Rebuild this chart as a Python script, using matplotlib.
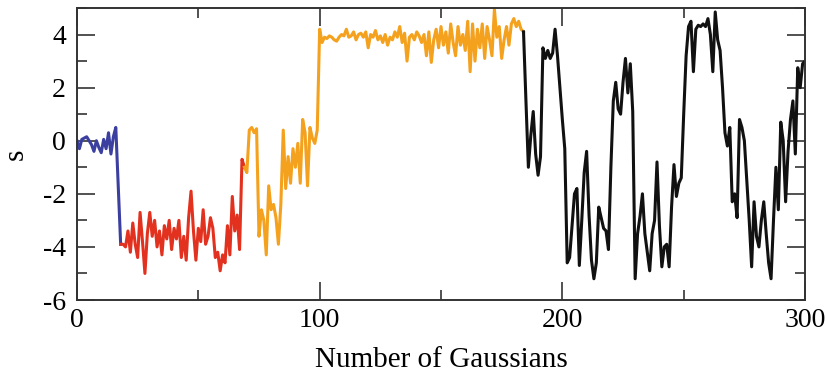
import matplotlib
matplotlib.use("Agg")
import matplotlib.pyplot as plt
from matplotlib.ticker import MultipleLocator
import numpy as np

plt.rcParams['font.family'] = ['Liberation Serif', 'DejaVu Serif']
plt.rcParams['axes.unicode_minus'] = False

# s value per number of gaussians, split into the four coloured stretches
blue_s = [0.0, -0.3, 0.05, 0.1, 0.15, 0.0, -0.15, -0.4, 0.0, -0.25,
          -0.45, 0.05, -0.3, 0.3, -0.5, 0.15, 0.5, -1.7, -3.9]
red_s = [-3.9, -4.0, -3.4, -4.2, -3.1, -3.9, -4.4, -2.7, -3.8, -5.0,
         -3.5, -2.7, -3.6, -3.0, -4.0, -3.4, -4.3, -3.2, -3.7, -3.0,
         -4.1, -3.3, -3.7, -3.0, -4.4, -3.6, -4.5, -2.9, -1.9, -3.4,
         -4.5, -3.3, -3.8, -2.6, -3.9, -3.6, -2.9, -3.3, -4.4, -4.2,
         -4.9, -4.3, -4.6, -3.2, -4.3, -2.1, -3.4, -2.8, -4.1, -0.7,
         -1.0]
orange_s = [-1.2, 0.4, 0.5, 0.3, 0.45, -3.6, -2.6, -3.0, -4.3, -1.7,
            -2.6, -2.4, -2.9, -3.9, -2.4, 0.4, -1.8, -0.6, -1.6, -0.3,
            -1.0, -0.1, -1.6, 0.8, 0.3, -1.7, 0.5, 0.1, -0.1, 0.4,
            4.2, 3.7, 3.9, 3.85, 3.95, 3.9, 3.8, 3.75, 3.9, 4.0,
            3.95, 4.2, 3.9, 3.95, 4.1, 3.8, 4.0, 4.05, 3.9, 4.1,
            3.5, 4.0, 3.9, 4.15, 3.8, 3.95, 3.7, 4.0, 3.6, 3.9,
            3.8, 4.1, 3.9, 4.3, 3.7, 4.05, 3.0, 3.9, 4.0, 3.8,
            4.1, 3.95, 3.7, 4.0, 3.2, 4.1, 2.95, 3.8, 4.2, 3.5,
            4.3, 3.6, 4.1, 3.3, 4.4, 3.7, 3.2, 4.3, 3.6, 4.0,
            3.4, 4.5, 2.6, 4.4, 3.0, 4.2, 3.5, 4.4, 3.1, 4.3,
            3.8, 3.2, 4.95, 3.9, 4.3, 3.1, 3.8, 4.3, 3.6, 4.4,
            4.6, 4.3, 4.5, 4.2, 4.1]
black_s = [1.5, -1.0, 0.2, 1.1, -0.5, -1.3, -0.6, 3.5, 3.1, 3.4,
           3.1, 3.3, 4.2, 3.2, 2.0, 0.8, -0.3, -4.6, -4.4, -3.2,
           -2.0, -1.8, -4.7, -3.0, -1.2, -0.4, -2.8, -4.5, -5.2, -4.6,
           -2.5, -2.9, -3.3, -3.4, -4.1, -1.0, 1.5, 2.2, 1.2, 1.0,
           2.2, 3.1, 1.8, 2.9, 1.1, -5.2, -3.5, -2.85, -2.0, -3.5,
           -4.2, -4.9, -3.5, -3.0, -0.8, -3.2, -4.75, -4.0, -3.9, -4.75,
           -2.5, -0.9, -2.1, -1.6, -1.4, 1.0, 3.2, 4.3, 4.5, 2.6,
           4.2, 4.35, 4.3, 4.4, 4.3, 4.6, 4.0, 2.6, 4.85, 3.8,
           3.4, 2.0, 0.3, -0.2, 0.5, -2.3, -2.0, -2.9, 0.8, 0.5,
           0.0, -1.5, -3.0, -4.75, -2.3, -3.6, -4.0, -3.0, -2.3, -3.5,
           -4.6, -5.2, -3.0, -1.0, -2.6, 0.7, 0.0, -2.3, -0.4, 0.8,
           1.5, -0.5, 2.75, 2.0, 2.9, 3.0]

segments = [(blue_s, '#3b3f9f'), (red_s, '#e2321f'),
            (orange_s, '#f4a11e'), (black_s, '#111111')]

fig = plt.figure(figsize=(8.25, 3.75), dpi=100)
ax = fig.add_axes([0.0933, 0.2, 0.8825, 0.7787])

start = 0
prev = None
for vals, col in segments:
    xs = np.arange(start, start + len(vals))
    ys = np.array(vals)
    if prev is not None:
        xs = np.concatenate([[start - 1], xs])
        ys = np.concatenate([[prev], ys])
    ax.plot(xs, ys, color=col, lw=2.2)
    start += len(vals)
    prev = vals[-1]

ax.set_xlim(0, 300)
ax.set_ylim(-6, 5)
ax.set_yticks([-6, -4, -2, 0, 2, 4])
ax.set_xticks([0, 100, 200, 300])
ax.xaxis.set_minor_locator(MultipleLocator(50))
ax.yaxis.set_minor_locator(MultipleLocator(1))
ax.tick_params(which='both', direction='in', top=True, right=True,
               color='#333333', width=1.2, labelsize=20)
ax.tick_params(which='major', length=13)
ax.tick_params(which='minor', length=7)
ax.tick_params(axis='x', pad=6)
ax.tick_params(axis='y', pad=8)
for sp in ax.spines.values():
    sp.set_color('#333333')
    sp.set_linewidth(1.4)

ax.set_xlabel('Number of Gaussians', fontsize=21, labelpad=10)
ax.set_ylabel('s', fontsize=21, labelpad=10)

fig.savefig('out.png', dpi=100)
